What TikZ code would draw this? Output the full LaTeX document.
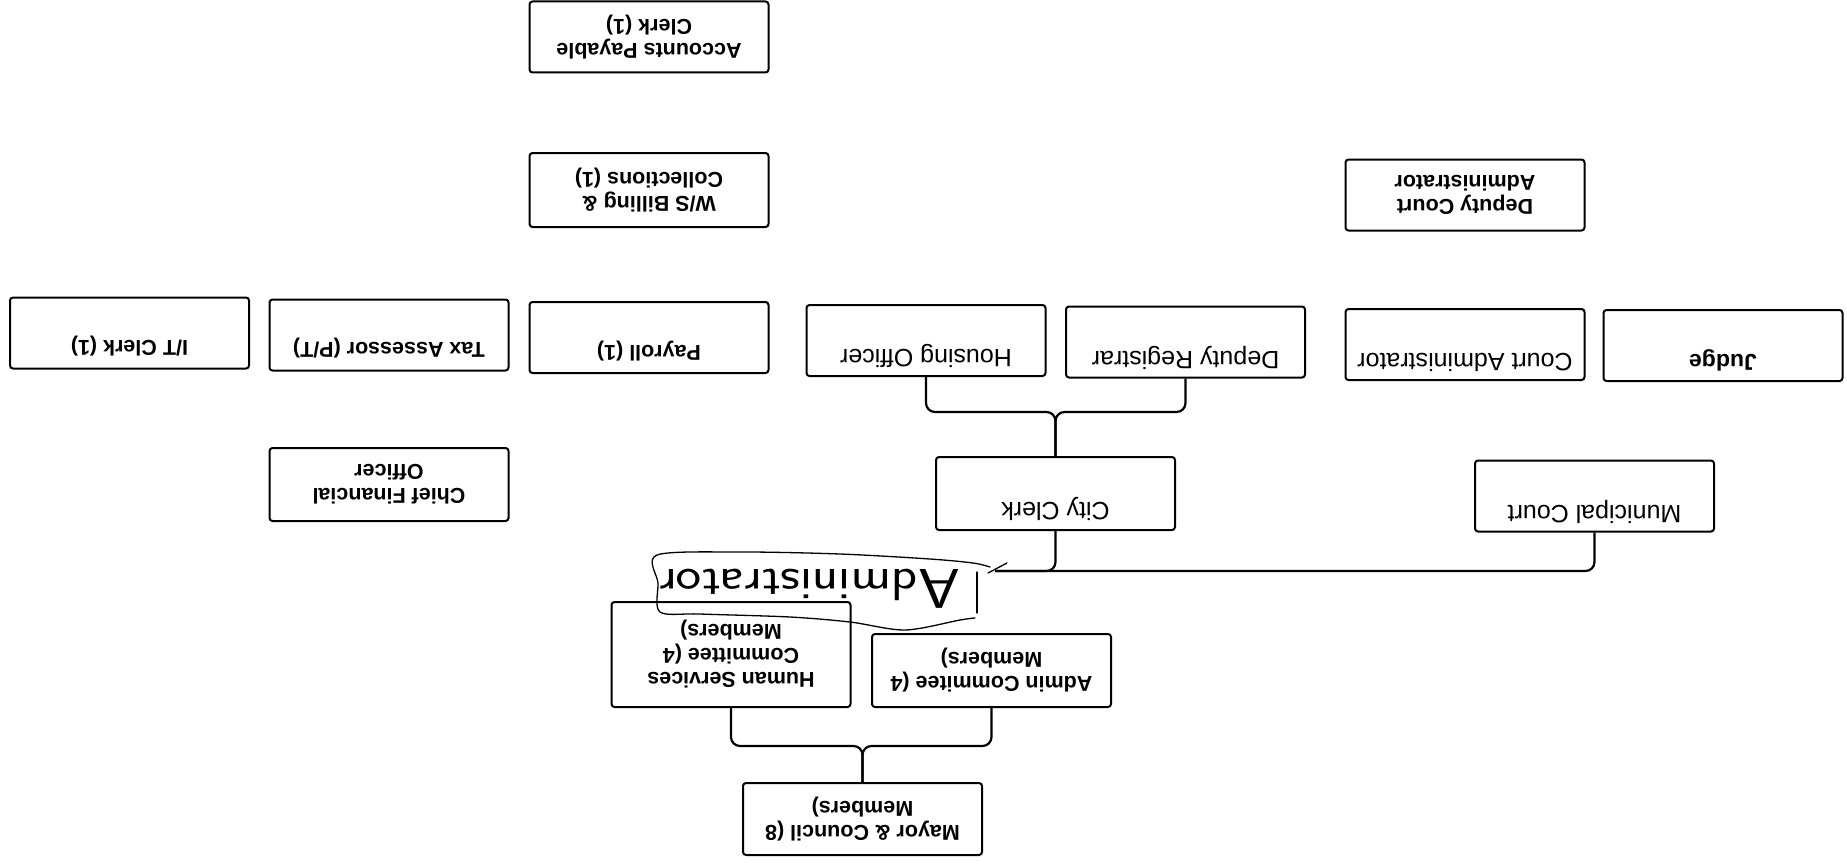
\documentclass[tikz,border=0pt]{standalone}
\usepackage{fontspec}
\setmainfont{Liberation Sans}
\usepackage{graphicx}
\begin{document}
\begin{tikzpicture}[x=1pt,y=-1pt,
  box/.style={draw=black, line width=2pt, rounded corners=3pt, rotate=180, align=center,
    inner sep=0pt, minimum width=239pt, minimum height=71pt,
    font=\fontsize{21.5}{24}\selectfont\bfseries},
  rbox/.style={box, font=\fontsize{25}{28}\selectfont},
  conn/.style={line width=2.2pt, rounded corners=9pt},
  hand/.style={line width=1.3pt, line cap=round, line join=round},
  handtext/.style={rotate=180, anchor=base, inner sep=0pt}
]
\useasboundingbox (0,0) rectangle (1847,867);
\fill[white] (0,0) rectangle (1847,867);

% boxes (the whole chart is printed upside down)
\node[box] (ap) at (649,37) {Accounts Payable\\Clerk (1)};
\node[box, minimum height=74pt] (ws) at (649,190) {W/S Billing \&\\Collections (1)};
\node[box] (dca) at (1465,195) {Deputy Court\\Administrator};
\node[box] (it) at (129.5,333) {I/T Clerk (1)\\\strut};
\node[box] (tax) at (389,335) {Tax Assessor (P/T)\\\strut};
\node[box] (pay) at (649,337.5) {Payroll (1)\\\strut};
\node[rbox] (ho) at (926,340.5) {Housing Officer\\\strut};
\node[rbox] (dr) at (1185.5,342) {Deputy Registrar\\\strut};
\node[rbox] (ca) at (1465,344.5) {Court Administrator\\\strut};
\node[box, font=\fontsize{23}{26}\selectfont\bfseries] (judge) at (1723,345.5) {Judge\\\strut};
\node[box, minimum height=73pt] (cfo) at (389,484.5) {Chief Financial\\Officer};
\node[rbox, minimum height=73pt] (cc) at (1055.5,493.5) {City Clerk\\\strut};
\node[rbox] (mc) at (1594.5,496) {Municipal Court\\\strut};
\node[box, minimum height=105pt] (hs) at (731,654.5) {Human Services\\Committee (4\\Members)};
\node[box, minimum height=73pt] (ac) at (991.5,670.5) {Admin Commitee (4\\Members)};
\node[box, minimum height=72pt] (mayor) at (862.5,819) {Mayor \& Council (8\\Members)};

% junction points
\coordinate (j1) at (1055.5,412);
\coordinate (j2) at (862.5,746);
\coordinate (lend) at (995,571);

% connectors (nodes are rotated 180 deg: .north is the lower edge, .south the upper edge)
\draw[conn] (ho.north) |- (j1) -- (cc.south);
\draw[conn] (dr.north) |- (j1) -- (cc.south);
\draw[conn] (cc.north) |- (lend);
\draw[conn] (lend) -| (mc.north);
\draw[conn] (hs.north) |- (j2) -- (mayor.south);
\draw[conn] (ac.north) |- (j2) -- (mayor.south);

% handwritten annotation
\draw[hand] plot[smooth, tension=0.5] coordinates {(990,567) (973,563) (930,559) (840,554) (740,552) (657,555) (658,583) (660,612) (700,614) (790,617) (850,622) (905,630) (960,620) (975,618)};
\draw[hand] (988,573) -- (1007,563);
\draw[hand] (977,572) -- (977,613);
\node[handtext] (adm) at (810,569) {\sffamily\scalebox{1.21}[1]{{\fontsize{56}{56}\selectfont A}\fontsize{45}{45}\selectfont dministrator}};
\end{tikzpicture}
\end{document}
